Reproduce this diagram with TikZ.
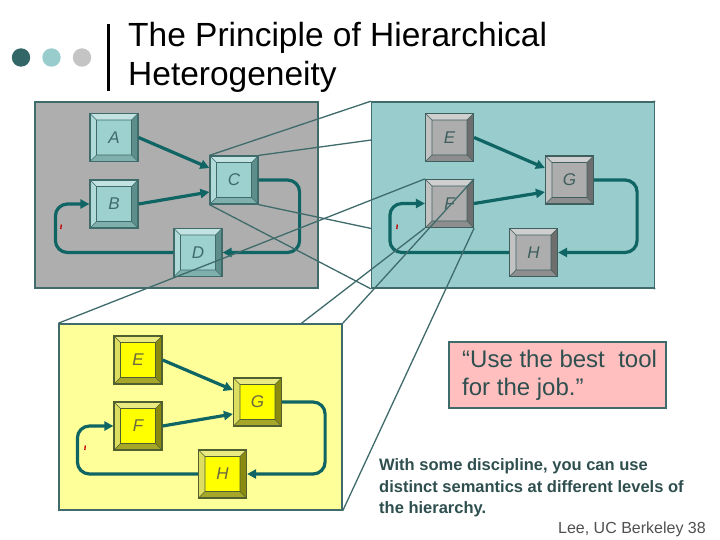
\documentclass[tikz,border=0pt]{standalone}
\usepackage{fontspec}
\setmainfont{Liberation Sans}
\usetikzlibrary{arrows.meta}
\pgfdeclarelayer{L1}\pgfdeclarelayer{L2}\pgfdeclarelayer{L3}\pgfdeclarelayer{L4}
\pgfsetlayers{L1,L2,L3,L4,main}
\definecolor{edge}{HTML}{3F6B6B}
\definecolor{arrowc}{HTML}{0F6464}
\definecolor{gboxc}{HTML}{AEAEAE}
\definecolor{tboxc}{HTML}{99CCCC}
\definecolor{yboxc}{HTML}{FFFF99}
\definecolor{pinkc}{HTML}{FFBFBF}
\definecolor{textc}{HTML}{2F4F4F}
\definecolor{footc}{HTML}{505050}
\definecolor{tickc}{HTML}{C00000}
\definecolor{dotA}{HTML}{336666}
\definecolor{dotB}{HTML}{99CCCC}
\definecolor{dotC}{HTML}{C4C4C4}
% teal buttons
\definecolor{tface}{HTML}{9DD1CF}
\definecolor{ttop}{HTML}{C2E3E2}
\definecolor{tleft}{HTML}{B0DAD8}
\definecolor{tright}{HTML}{5E8E8C}
\definecolor{tbot}{HTML}{80B0AE}
% gray buttons
\definecolor{gface}{HTML}{ADADAD}
\definecolor{gtop}{HTML}{CFCFCF}
\definecolor{gleft}{HTML}{C2C2C2}
\definecolor{gright}{HTML}{6E6E6E}
\definecolor{gbot}{HTML}{8E8E8E}
\definecolor{gedge}{HTML}{3F5F5F}
% yellow buttons
\definecolor{yface}{HTML}{FFFF00}
\definecolor{ytop}{HTML}{EAEA80}
\definecolor{yleft}{HTML}{DDDD60}
\definecolor{yright}{HTML}{8A8A10}
\definecolor{ybot}{HTML}{A6A628}
\definecolor{yedge}{HTML}{4F5F2F}
\definecolor{ytext}{HTML}{6A6A40}
\tikzset{
  btn/.style n args={7}{draw=#6, line width=1.2pt, fill=#1, minimum width=48pt,
    minimum height=48pt, inner sep=0pt, text=#7, font=\fontsize{17}{17}\selectfont\itshape,
    path picture={
      \path (path picture bounding box.north west) coordinate (pnw)
            (path picture bounding box.north east) coordinate (pne)
            (path picture bounding box.south east) coordinate (pse)
            (path picture bounding box.south west) coordinate (psw);
      \path ([shift={(6.5pt,-6.5pt)}]pnw) coordinate (inw)
            ([shift={(-6.5pt,-6.5pt)}]pne) coordinate (ine)
            ([shift={(-6.5pt,6.5pt)}]pse) coordinate (ise)
            ([shift={(6.5pt,6.5pt)}]psw) coordinate (isw);
      \fill[#2] (pnw) -- (pne) -- (ine) -- (inw) -- cycle;
      \fill[#3] (pnw) -- (inw) -- (isw) -- (psw) -- cycle;
      \fill[#4] (pne) -- (pse) -- (ise) -- (ine) -- cycle;
      \fill[#5] (psw) -- (pse) -- (ise) -- (isw) -- cycle;
      \draw[#6, line width=0.6pt] (inw) rectangle (ise) (pnw) -- (inw) (pne) -- (ine)
            (pse) -- (ise) (psw) -- (isw);
    }},
  tbtn/.style={btn={tface}{ttop}{tleft}{tright}{tbot}{edge}{edge}},
  gbtn/.style={btn={gface}{gtop}{gleft}{gright}{gbot}{gedge}{gedge}},
  ybtn/.style={btn={yface}{ytop}{yleft}{yright}{ybot}{yedge}{ytext}},
  panel/.style={draw=edge, line width=1.5pt, minimum width=283pt, minimum height=186pt, inner sep=0pt},
  arr/.style={draw=arrowc, line width=3.2pt, -{Triangle[length=9pt,width=9pt]}},
  loop/.style={arr, rounded corners=12pt},
  zoomline/.style={draw=edge, line width=1.3pt},
  tickmark/.style={draw=tickc, line width=1.3pt},
  txt/.style={anchor=base west, inner sep=0pt},
  bodytxt/.style={txt, text=textc, font=\fontsize{16.5}{20}\selectfont\bfseries},
  titletxt/.style={txt, font=\fontsize{33.5}{33.5}\selectfont},
  quotetxt/.style={txt, text=textc, font=\fontsize{24}{28}\selectfont},
}
\begin{document}
\begin{tikzpicture}[x=1pt, y=-1pt]
\useasboundingbox (0,0) rectangle (720,540);
\begin{pgfonlayer}{L1}
  \fill[white] (0,0) rectangle (720,540);
  % header
  \fill[dotA] (21,57.5) circle (9.2pt);
  \fill[dotB] (51.5,57.5) circle (9.2pt);
  \fill[dotC] (82,57.5) circle (9.2pt);
  \draw[line width=3pt] (108,24) -- (108,91);
  \node[titletxt] (title1) at (128,47) {The Principle of Hierarchical};
  \node[titletxt] (title2) at (128,86) {Heterogeneity};
  % gray panel
  \node[panel, fill=gboxc] (gbox) at (176.5,195) {};
  \node[tbtn] (A) at (114,137.5) {A};
  \node[tbtn] (C) at (234,180) {C};
  \node[tbtn] (B) at (114,204) {B};
  \node[tbtn] (D) at (198,252.5) {D};
  \draw[arr] (A.east) -- ([yshift=12pt]C.west);
  \draw[arr] (B.east) -- ([yshift=-12pt]C.west);
  \draw[loop] (C.east) -| ([xshift=77pt]D.east) -- (D.east);
  \draw[loop] (D.west) -| ([xshift=-34pt]B.west) -- (B.west);
  \draw[tickmark] (61.3,224.5) -- (60.8,229);
\end{pgfonlayer}
\begin{pgfonlayer}{L3}
  \node[panel, fill=tboxc] (tbox) at (513,195) {};
  \node[gbtn] (E1) at (449.5,137.5) {E};
  \node[gbtn] (G1) at (569.5,180) {G};
  \node[gbtn] (F1) at (449.5,203.5) {F};
  \node[gbtn] (H1) at (533.5,252.5) {H};
  \draw[arr] (E1.east) -- ([yshift=12pt]G1.west);
  \draw[arr] (F1.east) -- ([yshift=-12pt]G1.west);
  \draw[loop] (G1.east) -| ([xshift=79pt]H1.east) -- (H1.east);
  \draw[loop] (H1.west) -| ([xshift=-35pt]F1.west) -- (F1.west);
  \draw[tickmark] (397.3,224.5) -- (396.8,229);
\end{pgfonlayer}
\begin{pgfonlayer}{L2}
  \draw[zoomline] (C.north west) -- (tbox.north west);
  \draw[zoomline] (C.north east) -- (tbox.north east);
  \draw[zoomline] (C.south east) -- (tbox.south east);
  \draw[zoomline] (C.south west) -- (tbox.south west);
\end{pgfonlayer}
% yellow panel (main layer)
\node[panel, fill=yboxc] (ybox) at (200.5,417) {};
\node[ybtn] (E2) at (138,360) {E};
\node[ybtn] (G2) at (257.5,402) {G};
\node[ybtn] (F2) at (138,426) {F};
\node[ybtn] (H2) at (222.5,474) {H};
\draw[arr] (E2.east) -- ([yshift=12pt]G2.west);
\draw[arr] (F2.east) -- ([yshift=-12pt]G2.west);
\draw[loop] (G2.east) -| ([xshift=78pt]H2.east) -- (H2.east);
\draw[loop] (H2.west) -| ([xshift=-36pt]F2.west) -- (F2.west);
\draw[tickmark] (85.3,445.5) -- (84.8,450);
\begin{pgfonlayer}{L4}
  \draw[zoomline] (F1.north west) -- (ybox.north west);
  \draw[zoomline] (F1.north east) -- (ybox.north east);
  \draw[zoomline] (F1.south east) -- (ybox.south east);
  \draw[zoomline] (F1.south west) -- (ybox.south west);
\end{pgfonlayer}
% quote box
\node[draw=edge, line width=1.5pt, fill=pinkc, minimum width=217pt, minimum height=66pt, inner sep=0pt] (note) at (557.5,375) {};
\node[quotetxt] (q1) at (462,367) {“Use the best\ \ tool};
\node[quotetxt] (q2) at (462,395) {for the job.”};
% body text
\node[bodytxt] (t1) at (379,470) {With some discipline, you can use};
\node[bodytxt] (t2) at (379,492) {distinct semantics at different levels of};
\node[bodytxt] (t3) at (379,513) {the hierarchy.};
\node[txt, anchor=base east, text=footc, font=\fontsize{16}{16}\selectfont] (foot) at (706,533) {Lee, UC Berkeley 38};
\end{tikzpicture}
\end{document}
